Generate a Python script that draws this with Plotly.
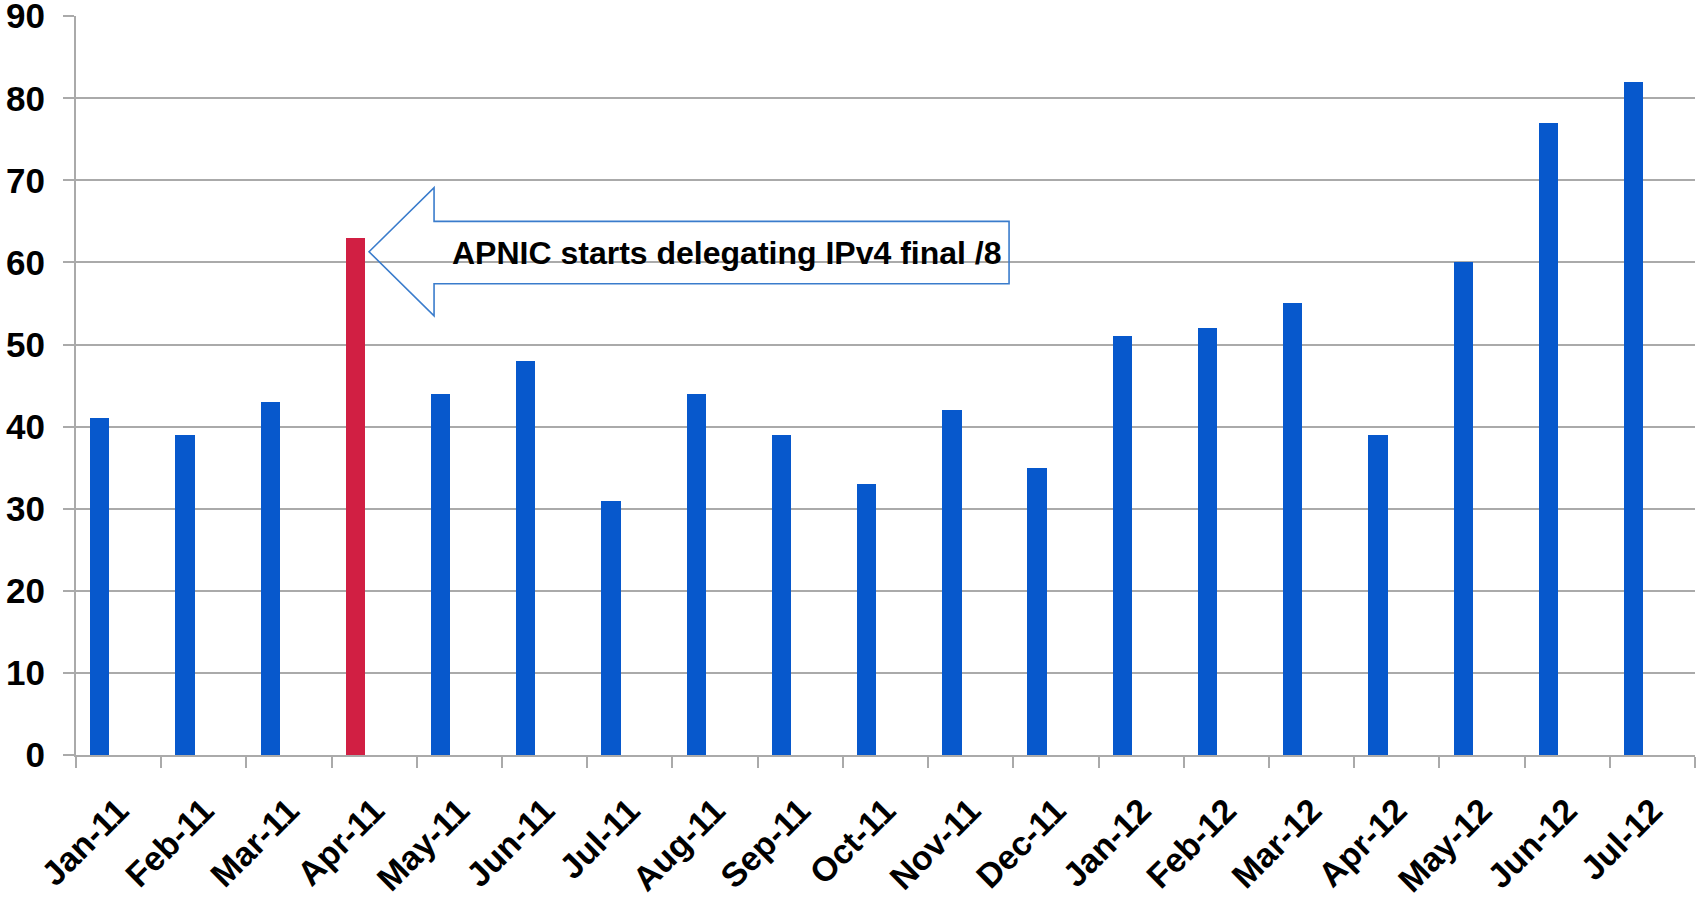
import plotly.graph_objects as go

months = ["Jan-11", "Feb-11", "Mar-11", "Apr-11", "May-11", "Jun-11", "Jul-11",
          "Aug-11", "Sep-11", "Oct-11", "Nov-11", "Dec-11", "Jan-12", "Feb-12",
          "Mar-12", "Apr-12", "May-12", "Jun-12", "Jul-12"]
values = [41, 39, 43, 63, 44, 48, 31, 44, 39, 33, 42, 35, 51, 52, 55, 39, 60, 77, 82]
highlight_month = "Apr-11"
y_ticks = [0, 10, 20, 30, 40, 50, 60, 70, 80, 90]
note_text = "APNIC starts delegating IPv4 final /8"

BLUE = "#0758cc"
RED = "#d11f43"
GRID = "#aaaaaa"
FONT = "Liberation Sans, Arial, sans-serif"

colors = [RED if m == highlight_month else BLUE for m in months]

fig = go.Figure()
fig.add_trace(go.Bar(
    x=months, y=values,
    marker=dict(color=colors, line=dict(width=0)),
    width=0.226, offset=-0.334,
    showlegend=False,
))

# block arrow annotation (category index coords)
hi = months.index(highlight_month)
tip_x, head_x, end_x = hi - 0.061, hi + 0.702, hi + 7.45
tip_y, head_top, head_bot, shaft_top, shaft_bot = 61.3, 69.1, 53.5, 65.0, 57.4
path = (f"M {tip_x},{tip_y} L {head_x},{head_top} L {head_x},{shaft_top} "
        f"L {end_x},{shaft_top} L {end_x},{shaft_bot} L {head_x},{shaft_bot} "
        f"L {head_x},{head_bot} Z")
fig.add_shape(type="path", path=path, xref="x", yref="y",
              line=dict(color="#3a7ccc", width=1.6), fillcolor="rgba(0,0,0,0)")
fig.add_annotation(x=hi + 4.13, y=61.1, xref="x", yref="y", text=note_text,
                   showarrow=False,
                   font=dict(family=FONT, size=32, color="black", weight="bold"))

fig.update_layout(
    width=1696, height=904,
    margin=dict(l=76, r=1, t=16, b=149),
    paper_bgcolor="white", plot_bgcolor="white",
    bargap=0,
)
fig.update_xaxes(
    type="category", categoryorder="array", categoryarray=months,
    automargin=False, ticklabeloverflow="allow",
    showgrid=False, showline=True, linecolor=GRID, linewidth=2,
    ticks="outside", tickson="boundaries", ticklen=11, tickwidth=2, tickcolor=GRID,
    tickangle=-45, ticklabelstandoff=20,
    tickfont=dict(family=FONT, size=34, color="black", weight="bold"),
)
fig.update_yaxes(
    range=[0, 90.02], tickvals=y_ticks, automargin=False, ticklabeloverflow="allow",
    showgrid=True, gridcolor=GRID, gridwidth=2,
    showline=True, linecolor=GRID, linewidth=2,
    ticks="outside", ticklen=11, tickwidth=2, tickcolor=GRID,
    ticklabelstandoff=11, zeroline=False,
    tickfont=dict(family=FONT, size=35, color="black", weight="bold"),
)

fig.write_html("out.html", config={"displayModeBar": False},
               post_script="document.body.style.margin='0';document.body.style.overflow='hidden';")
